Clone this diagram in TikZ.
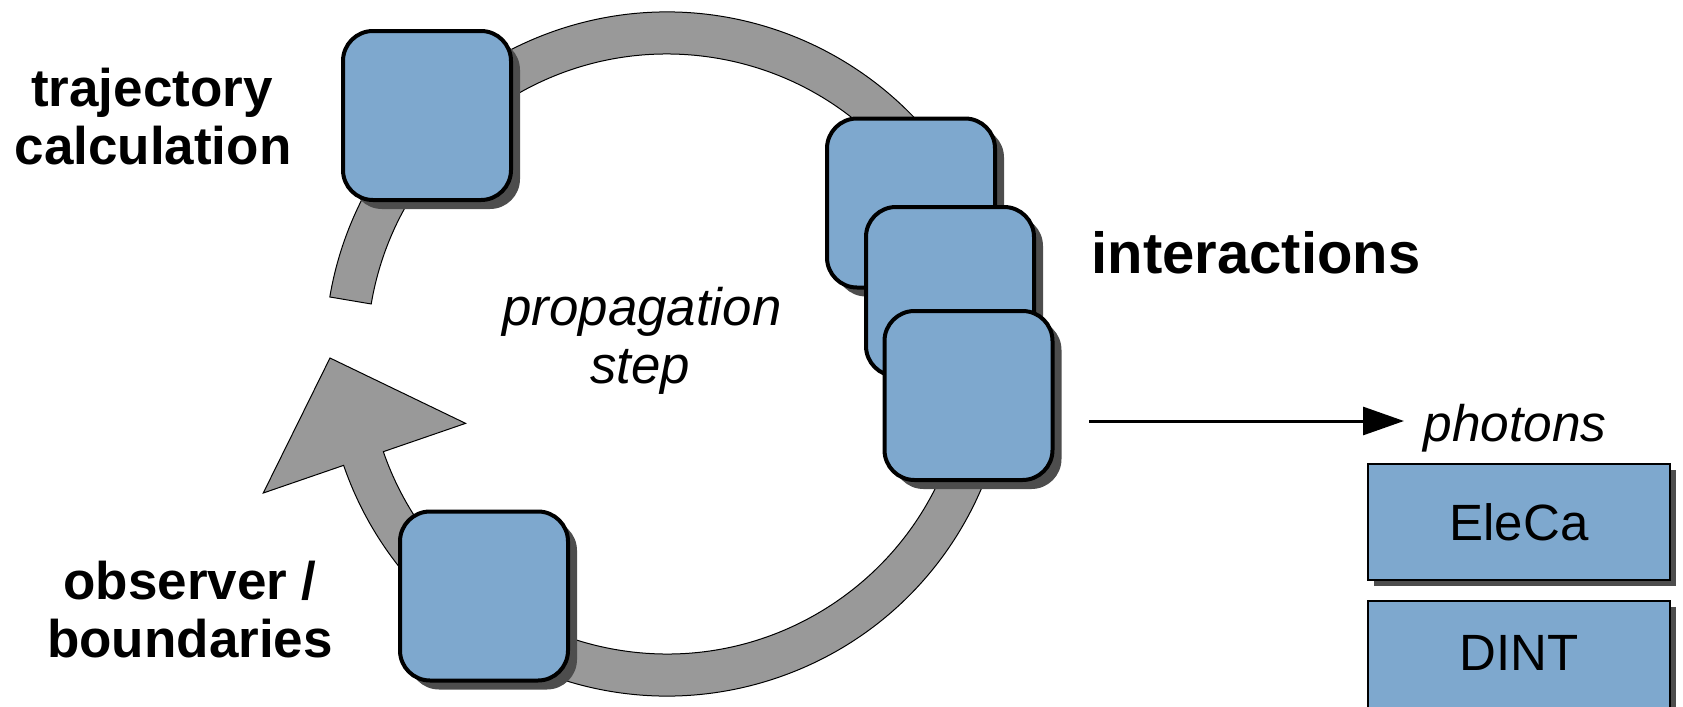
\documentclass[tikz,border=0pt]{standalone}
\usepackage{fontspec}
\setmainfont{Liberation Sans}
\usetikzlibrary{calc,shadows,arrows.meta}
\definecolor{ringgray}{HTML}{999999}
\definecolor{boxblue}{HTML}{7EA8CE}
\definecolor{shadowgray}{HTML}{4D4D4D}
\begin{document}
\begin{tikzpicture}[x=0.5pt,y=0.5pt,
  roundbox/.style={draw=black, line width=2pt, fill=boxblue, rounded corners=15pt,
    minimum width=84pt, minimum height=84.5pt, inner sep=0pt,
    drop shadow={shadow xshift=4.5pt, shadow yshift=-4.5pt, fill=shadowgray, opacity=1}},
  rectbox/.style={draw=black, line width=1.2pt, fill=boxblue,
    minimum width=151pt, minimum height=58pt, inner sep=0pt,
    font=\fontsize{25.5}{30}\selectfont,
    drop shadow={shadow xshift=3pt, shadow yshift=-3pt, fill=shadowgray, opacity=1}},
  lblbold/.style={inner sep=0pt, anchor=base, font=\fontsize{26.5}{30}\selectfont\bfseries},
  lblit/.style={inner sep=0pt, anchor=base, font=\fontsize{26.4}{30}\selectfont\itshape},
  ringstyle/.style={fill=ringgray, draw=black, line width=0.5pt},
  photarrow/.style={line width=1.5pt, -{Triangle[length=20.5pt,width=14pt]}}
]
\path[use as bounding box] (0,0) rectangle (1683,-707);
\clip (0,0) rectangle (1683,-707);

% cycle ring with arrow head
\coordinate (C) at (667,-354);
\coordinate (tip) at (330,-358);
\path[ringstyle]
  ($(C)+(199:342)$) arc[start angle=199, end angle=530.4, radius=342]
  -- ($(C)+(170.4:300)$) arc[start angle=530.4, end angle=199, radius=300]
  -- ($(C)+(199:213)$) -- (tip) -- ($(C)+(199:427)$) -- cycle;

% module boxes
\node[roundbox] (traj) at (427,-115.5) {};
\node[roundbox] (obs) at (484,-596) {};
\node[roundbox] (int1) at (911,-203) {};
\node[roundbox] (int2) at (950,-291.5) {};
\node[roundbox] (int3) at (968.5,-395.5) {};

% labels
\node[lblbold] (traj1) at (152,-106) {trajectory};
\node[lblbold] (traj2) at (153,-164) {calculation};
\node[lblbold] (obs1) at (190,-599) {observer /};
\node[lblbold] (obs2) at (190,-657) {boundaries};
\node[lblbold, font=\fontsize{29}{33}\selectfont\bfseries] (inter) at (1256,-273) {interactions};
\node[lblit] (prop1) at (642,-325) {propagation};
\node[lblit] (prop2) at (640,-383) {step};
\node[lblit, font=\fontsize{25.7}{30}\selectfont\itshape] (phot) at (1515,-441) {photons};

% photon arrow
\coordinate (arrs) at (1089,-421);
\coordinate (arre) at (1404,-421);
\draw[photarrow] (arrs) -- (arre);

% external codes
\node[rectbox] (eleca) at (1519,-522) {EleCa};
\node[rectbox, minimum height=57pt, text depth=5pt] (dint) at (1519,-658) {DINT};
\end{tikzpicture}
\end{document}
